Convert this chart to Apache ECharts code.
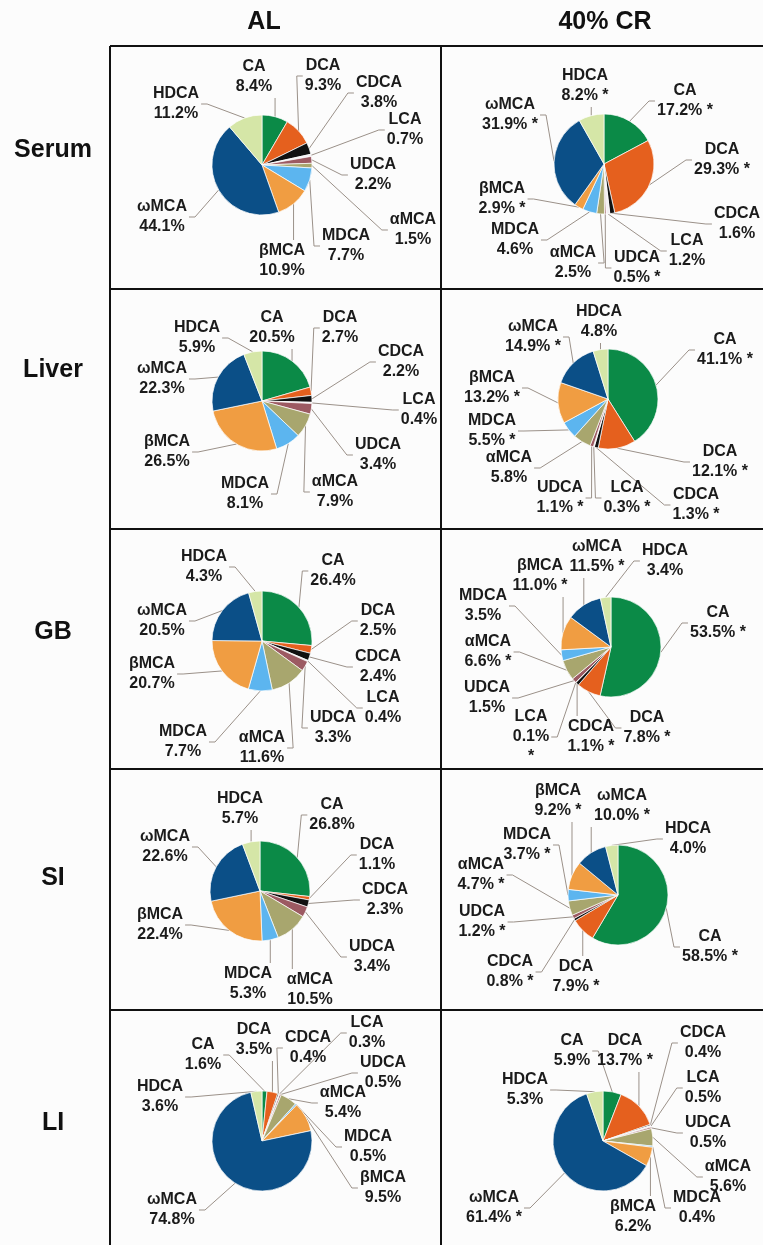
<!DOCTYPE html>
<html>
<head>
<meta charset="utf-8">
<script src="https://cdn.jsdelivr.net/npm/echarts@6/dist/echarts.min.js"></script>
<style>
  html, body { margin: 0; padding: 0; background: #fcfcfc; }
  #chart { width: 763px; height: 1245px; }
</style>
</head>
<body>
<div id="chart"></div>
<script>
// Bile acid composition (% of total) per tissue, ad libitum vs 40% calorie restriction
const acids = ['CA', 'DCA', 'CDCA', 'LCA', 'UDCA', 'αMCA', 'MDCA', 'βMCA', 'ωMCA', 'HDCA'];
const tissues = ['Serum', 'Liver', 'GB', 'SI', 'LI'];
const groups = ['AL', '40% CR'];

// values in acid order; null = not reported
const serumAL = [8.4, 9.3, 3.8, 0.7, 2.2, 1.5, 7.7, 10.9, 44.1, 11.2];
const serumCR = [17.2, 29.3, 1.6, 1.2, 0.5, 2.5, 4.6, 2.9, 31.9, 8.2];
const liverAL = [20.5, 2.7, 2.2, 0.4, 3.4, 7.9, 8.1, 26.5, 22.3, 5.9];
const liverCR = [41.1, 12.1, 1.3, 0.3, 1.1, 5.8, 5.5, 13.2, 14.9, 4.8];
const gbAL = [26.4, 2.5, 2.4, 0.4, 3.3, 11.6, 7.7, 20.7, 20.5, 4.3];
const gbCR = [53.5, 7.8, 1.1, 0.1, 1.5, 6.6, 3.5, 11.0, 11.5, 3.4];
const siAL = [26.8, 1.1, 2.3, null, 3.4, 10.5, 5.3, 22.4, 22.6, 5.7];
const siCR = [58.5, 7.9, 0.8, null, 1.2, 4.7, 3.7, 9.2, 10.0, 4.0];
const liAL = [1.6, 3.5, 0.4, 0.3, 0.5, 5.4, 0.5, 9.5, 74.8, 3.6];
const liCR = [5.9, 13.7, 0.4, 0.5, 0.5, 5.6, 0.4, 6.2, 61.4, 5.3];

// significance vs AL (1 = marked with *)
const serumCRSig = [1, 1, 0, 0, 1, 0, 0, 1, 1, 1];
const liverCRSig = [1, 1, 1, 1, 1, 0, 1, 1, 1, 0];
const gbCRSig = [1, 1, 1, 1, 0, 1, 0, 1, 1, 0];
const siCRSig = [1, 1, 1, 0, 1, 1, 1, 1, 1, 0];
const liCRSig = [0, 1, 0, 0, 0, 0, 0, 0, 1, 0];

const noSig = acids.map(() => 0);

// slice colours in acid order
const acidColors = ['#0b8a47', '#e5601e', '#111111', '#f3eff3', '#9c5a62',
                    '#a8a66e', '#5cb5ef', '#f09d42', '#0b4f87', '#d5e6a7'];

// ---- layout ----
const R0 = 50;
const PANEL_CENTERS = [
  [[262, 165], [604, 164]],
  [[262, 401], [608, 399]],
  [[262, 641], [611, 647]],
  [[260, 891], [618, 895]],
  [[262, 1141], [603, 1141]]
];
// label block centres, acid order
const LABEL_AT = [
  [
    [[254, 77], [323, 76], [379, 93], [405, 130], [373, 175], [413, 230], [346, 246], [282, 261], [162, 217], [176, 104]],
    [[685, 101], [722, 160], [737, 224], [687, 251], [637, 268], [573, 263], [515, 240], [502, 199], [510, 115], [585, 86]]
  ],
  [
    [[272, 328], [340, 328], [401, 362], [419, 410], [378, 455], [335, 492], [245, 494], [167, 452], [162, 379], [197, 338]],
    [[725, 350], [720, 462], [696, 505], [627, 498], [560, 498], [509, 468], [492, 431], [492, 388], [533, 337], [599, 322]]
  ],
  [
    [[333, 571], [378, 621], [378, 667], [383, 708], [333, 728], [262, 748], [183, 742], [152, 674], [162, 621], [204, 567]],
    [[718, 623], [647, 728], [591, 737], [531, 737], [487, 698], [488, 652], [483, 606], [540, 576], [597, 557], [665, 561]]
  ],
  [
    [[332, 815], [377, 855], [385, 900], null, [372, 957], [310, 990], [248, 984], [160, 925], [165, 847], [240, 809]],
    [[710, 947], [576, 977], [510, 972], null, [482, 922], [481, 875], [527, 845], [558, 801], [622, 806], [688, 839]]
  ],
  [
    [[203, 1055], [254, 1040], [308, 1048], [367, 1033], [383, 1073], [343, 1103], [368, 1147], [383, 1188], [172, 1210], [160, 1097]],
    [[572, 1051], [625, 1051], [703, 1043], [703, 1088], [708, 1133], [728, 1177], [697, 1208], [633, 1217], [494, 1208], [525, 1090]]
  ]
];
// labels whose asterisk sits on its own line
const STAR_OWN_LINE = { 'GB|1|LCA': true };

const valueTable = [
  [serumAL, serumCR], [liverAL, liverCR], [gbAL, gbCR], [siAL, siCR], [liAL, liCR]
];
const sigTable = [
  [noSig, serumCRSig], [noSig, liverCRSig], [noSig, gbCRSig], [noSig, siCRSig], [noSig, liCRSig]
];

const FONT = '"Liberation Sans", Arial, Helvetica, sans-serif';

const series = [];
tissues.forEach((tissue, t) => {
  groups.forEach((group, g) => {
    const vals = valueTable[t][g];
    const sig = sigTable[t][g];
    const center = PANEL_CENTERS[t][g];
    const items = [];
    acids.forEach((name, i) => {
      if (vals[i] == null) return;
      items.push({ name, value: vals[i], sig: sig[i], color: acidColors[i], pos: LABEL_AT[t][g][i] });
    });
    const total = items.reduce((s, d) => s + d.value, 0);
    let cum = 0;
    items.forEach(d => {
      d.mid = (cum + d.value / 2) / total * Math.PI * 2;
      cum += d.value;
    });

    series.push({
      type: 'pie',
      center: center,
      radius: R0,
      startAngle: 90,
      clockwise: true,
      avoidLabelOverlap: false,
      minShowLabelAngle: 0,
      emphasis: { disabled: true },
      itemStyle: { borderColor: '#ffffff', borderWidth: 0.7 },
      label: {
        show: true,
        position: 'outside',
        fontFamily: FONT,
        fontWeight: 'bold',
        fontSize: 16,
        lineHeight: 20,
        color: '#1b1b1b',
        align: 'center',
        formatter: (p) => {
          const d = items[p.dataIndex];
          let star = '';
          if (d.sig) star = STAR_OWN_LINE[tissue + '|' + g + '|' + d.name] ? '\n*' : ' *';
          return d.name + '\n' + d.value.toFixed(1) + '%' + star;
        }
      },
      labelLine: {
        show: true,
        length: 6,
        length2: 6,
        lineStyle: { color: '#9b9189', width: 1 }
      },
      labelLayout: (p) => {
        const d = items[p.dataIndex];
        const w = p.labelRect.width, h = p.labelRect.height;
        const lx = d.pos[0], ly = d.pos[1];
        const L = lx - w / 2, R = lx + w / 2, T = ly - h / 2, B = ly + h / 2;
        const sx = center[0] + R0 * Math.sin(d.mid);
        const sy = center[1] - R0 * Math.cos(d.mid);
        let pts;
        if (sx < L - 3) {
          pts = [[sx, sy], [L - 8, ly], [L - 2, ly]];
        } else if (sx > R + 3) {
          pts = [[sx, sy], [R + 8, ly], [R + 2, ly]];
        } else if (sy > B) {
          pts = [[sx, sy], [sx, B + 1], [sx, B + 1]];
        } else {
          pts = [[sx, sy], [sx, T - 1], [sx, T - 1]];
        }
        return { x: lx, y: ly, align: 'center', verticalAlign: 'middle', labelLinePoints: pts };
      },
      data: items.map(d => ({ name: d.name, value: d.value, itemStyle: { color: d.color } }))
    });
  });
});

// frame and headings
const graphics = [];
const line = (x1, y1, x2, y2) => ({
  type: 'line', shape: { x1, y1, x2, y2 }, style: { stroke: '#111', lineWidth: 2 }, silent: true
});
[46, 289, 529, 769, 1010].forEach(y => graphics.push(line(110, y, 763, y)));
graphics.push(line(110, 46, 110, 1245));
graphics.push(line(441, 46, 441, 1245));

const headX = [264, 605];
groups.forEach((g, i) => graphics.push({
  type: 'text', x: headX[i], y: 22,
  style: { text: g, fontFamily: FONT, fontWeight: 'bold', fontSize: 25, fill: '#111', align: 'center', verticalAlign: 'middle' }
}));
const rowY = [150, 370, 632, 878, 1123];
tissues.forEach((t, i) => graphics.push({
  type: 'text', x: 53, y: rowY[i],
  style: { text: t, fontFamily: FONT, fontWeight: 'bold', fontSize: 25, fill: '#111', align: 'center', verticalAlign: 'middle' }
}));

const chart = echarts.init(document.getElementById('chart'), null, { renderer: 'canvas' });
chart.setOption({
  backgroundColor: '#fcfcfc',
  animation: false,
  series: series,
  graphic: graphics
});
</script>
</body>
</html>
